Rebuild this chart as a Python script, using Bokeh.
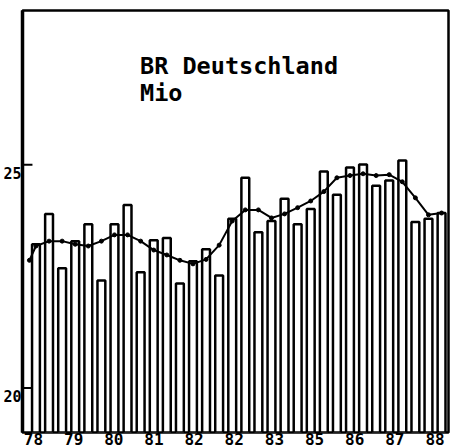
import numpy as np
from bokeh.plotting import figure
from bokeh.models import Label, Range1d, ColumnDataSource, FixedTicker
from bokeh.embed import file_html
from bokeh.resources import INLINE

# ---- data ----
bar_values = [23.22, 23.90, 22.68, 23.29, 23.67, 22.41, 23.67, 24.10, 22.59, 23.31,
              23.36, 22.34, 22.84, 23.11, 22.52, 23.79, 24.71, 23.49, 23.74, 24.24,
              23.67, 24.01, 24.85, 24.33, 24.94, 25.01, 24.53, 24.65, 25.10, 23.72,
              23.79, 23.92]
trend_values = [22.86, 23.18, 23.29, 23.29, 23.22, 23.18, 23.29, 23.43, 23.43, 23.29,
                23.09, 22.98, 22.86, 22.78, 22.88, 23.20, 23.74, 23.99, 23.99, 23.81,
                23.90, 24.04, 24.19, 24.40, 24.71, 24.76, 24.80, 24.76, 24.78, 24.62,
                24.26, 23.88, 23.92]
tick_labels = ["78", "79", "80", "81", "82", "82", "83", "85", "86", "87", "88"]
y_ticks = [20, 25]
y_tick_labels = ["20", "25"]
title_lines = ["BR Deutschland", "Mio"]

n = len(bar_values)
bar_x = list(range(1, n + 1))
trend_x = [0.5] + bar_x
tick_pos = [float(round(v, 3)) for v in np.linspace(0.81, 31.5, len(tick_labels))]

FONT = "DejaVu Sans Mono"
X0, X1, Y0, Y1 = -0.03, 32.53, 19, 28.46

p = figure(width=452, height=447, output_backend="svg", toolbar_location=None,
           x_range=Range1d(X0, X1), y_range=Range1d(Y0, Y1),
           min_border_left=0, min_border_right=4, min_border_top=10, min_border_bottom=0)
p.background_fill_color = "white"
p.border_fill_color = "white"
p.grid.visible = False
p.outline_line_color = "black"
p.outline_line_width = 2.5

src = ColumnDataSource(dict(x=bar_x, top=bar_values))
p.vbar(x="x", top="top", bottom=Y0, width=0.6, source=src,
       fill_color="white", line_color="black", line_width=2.5)

p.line(trend_x, trend_values, line_color="black", line_width=2)
p.scatter(trend_x, trend_values, size=4, fill_color="black", line_color="black")

# left axis: thick line, labels sit a little below their tick marks
label_shift = 8 * (Y1 - Y0) / 420
y_label_pos = [float(round(t - label_shift, 4)) for t in y_ticks]
ya = p.yaxis[0]
ya.ticker = FixedTicker(ticks=y_label_pos)
ya.major_label_overrides = {pos: lab for pos, lab in zip(y_label_pos, y_tick_labels)}
ya.axis_line_width = 3.5
ya.major_tick_line_color = None
ya.minor_tick_line_color = None
ya.major_tick_in = 0
ya.major_tick_out = 0
ya.major_label_standoff = 1
ya.major_label_text_align = "right"
ya.major_label_text_baseline = "middle"
ya.major_label_text_font = FONT
ya.major_label_text_font_style = "bold"
ya.major_label_text_font_size = "15px"
ya.major_label_text_color = "black"

# inward tick marks at the real tick values
tick_len = 10 / (428 / (X1 - X0))
p.segment(x0=[X0] * len(y_ticks), x1=[X0 + tick_len] * len(y_ticks), y0=y_ticks, y1=y_ticks,
          line_color="black", line_width=2)

# bottom axis: labels only
xa = p.xaxis[0]
xa.ticker = FixedTicker(ticks=tick_pos)
xa.major_label_overrides = {tp: lab for tp, lab in zip(tick_pos, tick_labels)}
xa.axis_line_color = None
xa.major_tick_line_color = None
xa.minor_tick_line_color = None
xa.major_tick_in = 0
xa.major_tick_out = 0
xa.major_label_standoff = 0
xa.major_label_text_font = FONT
xa.major_label_text_font_style = "bold"
xa.major_label_text_font_size = "16px"
xa.major_label_text_color = "black"

# title text inside plot
for line_text, yy in zip(title_lines, [27.22, 26.61]):
    p.add_layout(Label(x=8.95, y=yy, text=line_text, text_baseline="alphabetic",
                       text_font=FONT, text_font_style="bold", text_font_size="23.5px",
                       text_color="black"))

open("out.html", "w").write(file_html(p, INLINE))
